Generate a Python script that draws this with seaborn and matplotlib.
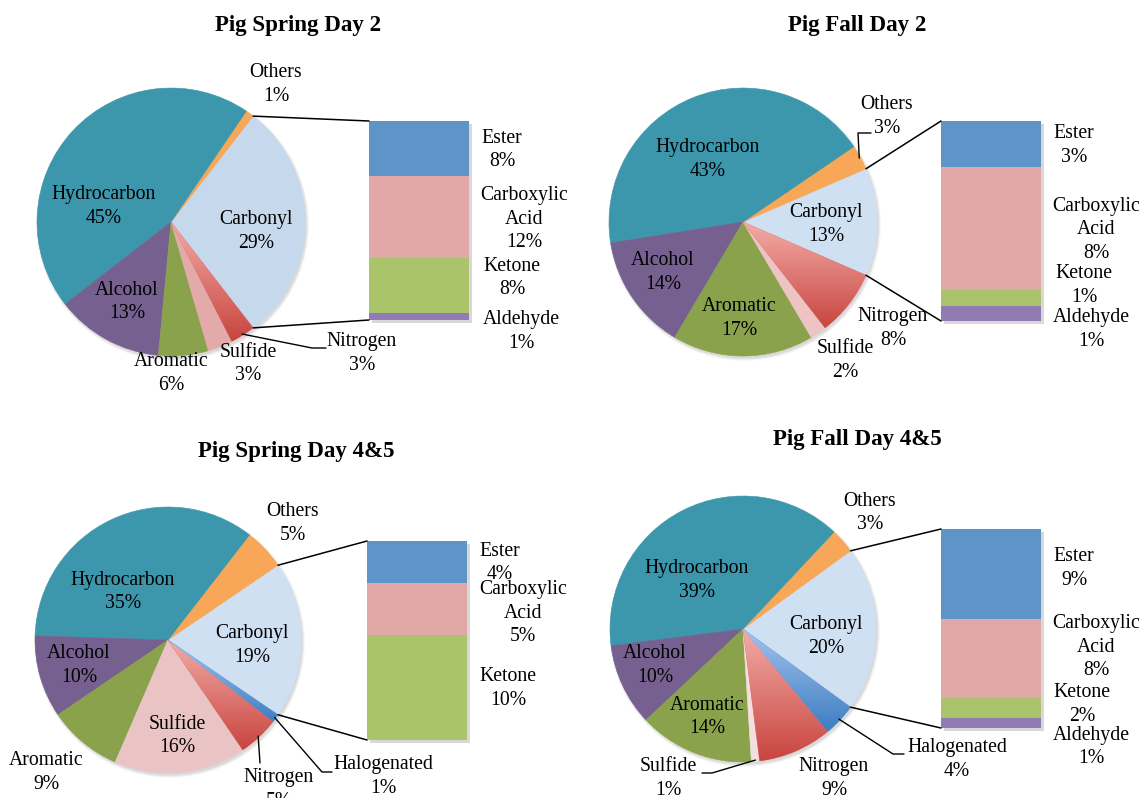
import numpy as np
import matplotlib
matplotlib.use("Agg")
import matplotlib.pyplot as plt
import seaborn as sns
from matplotlib.patches import Circle, ConnectionPatch
from matplotlib import patheffects as pe
from matplotlib.colors import LinearSegmentedColormap

# ---------------------------------------------------------------- data
titles = ["Pig Spring Day 2", "Pig Fall Day 2", "Pig Spring Day 4&5", "Pig Fall Day 4&5"]

spring2_pie_labels = ["Carbonyl", "Others", "Hydrocarbon", "Alcohol", "Aromatic", "Sulfide", "Nitrogen"]
spring2_pie_values = [29, 1, 45, 13, 6, 3, 3]
spring2_bar_labels = ["Ester", "Carboxylic Acid", "Ketone", "Aldehyde"]
spring2_bar_values = [8, 12, 8, 1]

fall2_pie_labels = ["Carbonyl", "Others", "Hydrocarbon", "Alcohol", "Aromatic", "Sulfide", "Nitrogen"]
fall2_pie_values = [13, 3, 43, 14, 17, 2, 8]
fall2_bar_labels = ["Ester", "Carboxylic Acid", "Ketone", "Aldehyde"]
fall2_bar_values = [3, 8, 1, 1]

spring45_pie_labels = ["Carbonyl", "Others", "Hydrocarbon", "Alcohol", "Aromatic", "Sulfide",
                       "Nitrogen", "Halogenated"]
spring45_pie_values = [19, 5, 35, 10, 9, 16, 5, 1]
spring45_bar_labels = ["Ester", "Carboxylic Acid", "Ketone"]
spring45_bar_values = [4, 5, 10]

fall45_pie_labels = ["Carbonyl", "Others", "Hydrocarbon", "Alcohol", "Aromatic", "Sulfide",
                     "Nitrogen", "Halogenated"]
fall45_pie_values = [20, 3, 39, 10, 14, 1, 9, 4]
fall45_bar_labels = ["Ester", "Carboxylic Acid", "Ketone", "Aldehyde"]
fall45_bar_values = [9, 8, 2, 1]

# ---------------------------------------------------------------- style
sns.set_theme(style="white")
plt.rcParams["font.family"] = ["Liberation Serif", "DejaVu Serif"]

W, H = 1140, 798
fig = plt.figure(figsize=(W / 100, H / 100), dpi=100)
fig.patch.set_facecolor("white")

base_colors = {
    "Hydrocarbon": "#3C97AD", "Others": "#F7A757", "Carbonyl": "#CFE0F2",
    "Alcohol": "#76608F", "Aromatic": "#89A24B", "Sulfide": "#EAC4C4",
    "Nitrogen": "#DE7772", "Halogenated": "#6E9AD6",
    "Ester": "#5F94C8", "Carboxylic Acid": "#E1A8A7", "Ketone": "#A9C46B",
    "Aldehyde": "#927AB4",
}
gradients = {
    "Nitrogen": LinearSegmentedColormap.from_list("nitro", ["#C8453F", "#F4ACA8"]),
    "Halogenated": LinearSegmentedColormap.from_list("halo", ["#3D7EC1", "#A4C4EE"]),
}

LABEL_FS = 14.2
LINE_SP = 1.34
TITLE_FS = 16.5


def fig_xy(px, py):
    return px / W, 1 - py / H


def add_px_axes(x0, y0, x1, y1):
    return fig.add_axes([x0 / W, 1 - y1 / H, (x1 - x0) / W, (y1 - y0) / H])


panels = [
    dict(title=titles[0], pie_labels=spring2_pie_labels, pie_values=spring2_pie_values,
         bar_labels=spring2_bar_labels, bar_values=spring2_bar_values,
         center=(171, 222), r=134, bar_box=(369, 121, 469, 320), title_xy=(298, 25),
         colors={"Carbonyl": "#C6D8EB", "Sulfide": "#E2AAA9"},
         pie_text={"Others": (276, 84.5), "Hydrocarbon": (104, 206.5), "Carbonyl": (256, 231.5),
                   "Alcohol": (127, 302), "Aromatic": (171, 373.5), "Sulfide": (248, 364),
                   "Nitrogen": (362, 353.5)},
         bar_text={"Ester": (502, 150), "Carboxylic Acid": (524, 219), "Ketone": (512, 278),
                   "Aldehyde": (521, 331.5)},
         leaders={"Nitrogen": [(312, 348), (326, 348)]}),
    dict(title=titles[1], pie_labels=fall2_pie_labels, pie_values=fall2_pie_values,
         bar_labels=fall2_bar_labels, bar_values=fall2_bar_values,
         center=(743, 222), r=134, bar_box=(941, 121, 1041, 321), title_xy=(857, 25),
         colors={"Sulfide": "#EDC3C3"},
         pie_text={"Others": (887, 116.5), "Hydrocarbon": (708, 159.5), "Carbonyl": (826, 224.5),
                   "Alcohol": (663, 272.5), "Aromatic": (739, 318.5), "Nitrogen": (893, 328.5),
                   "Sulfide": (845, 360.5)},
         bar_text={"Ester": (1074, 145.5), "Carboxylic Acid": (1096, 230), "Ketone": (1084, 285.5),
                   "Aldehyde": (1091, 329.5)},
         leaders={"Others": [(858, 133), (871, 133)]}),
    dict(title=titles[2], pie_labels=spring45_pie_labels, pie_values=spring45_pie_values,
         bar_labels=spring45_bar_labels, bar_values=spring45_bar_values,
         center=(168, 640), r=133, bar_box=(367, 541, 467, 740), title_xy=(296, 452),
         colors={"Sulfide": "#EAC4C4"},
         pie_text={"Others": (293, 523.5), "Hydrocarbon": (123, 592), "Carbonyl": (252, 645.5),
                   "Alcohol": (79, 665.5), "Sulfide": (177, 736), "Aromatic": (46, 772.5),
                   "Nitrogen": (279, 789.5), "Halogenated": (383, 776.5)},
         bar_text={"Ester": (500, 563), "Carboxylic Acid": (523, 613), "Ketone": (508, 688.5)},
         leaders={"Nitrogen": [(260, 763)], "Halogenated": [(322, 772), (332, 772)]}),
    dict(title=titles[3], pie_labels=fall45_pie_labels, pie_values=fall45_pie_values,
         bar_labels=fall45_bar_labels, bar_values=fall45_bar_values,
         center=(743, 629), r=133, bar_box=(941, 529, 1041, 728), title_xy=(857, 439),
         colors={"Sulfide": "#F5DEDE"},
         pie_text={"Others": (870, 513), "Hydrocarbon": (697, 580.5), "Carbonyl": (826, 636.5),
                   "Alcohol": (655, 665.5), "Aromatic": (707, 717), "Sulfide": (668, 778.5),
                   "Nitrogen": (834, 778.5), "Halogenated": (957, 759.5)},
         bar_text={"Ester": (1074, 568.5), "Carboxylic Acid": (1096, 647), "Ketone": (1082, 704.5),
                   "Aldehyde": (1091, 747)},
         leaders={"Halogenated": [(893, 754), (904, 754)], "Sulfide": [(712, 773), (702, 773)]}),
]

for p in panels:
    cx, cy = p["center"]
    r = p["r"]
    labels, values = p["pie_labels"], p["pie_values"]
    total = float(sum(values))
    colors = [p["colors"].get(lab, base_colors[lab]) for lab in labels]

    # ---- pie (aggregated "Carbonyl" slice centred on the right-hand side)
    ax = add_px_axes(cx - r, cy - r, cx + r, cy + r)
    half = values[0] / total * 180.0
    wedges, _ = ax.pie(values, colors=colors, startangle=-half, counterclock=True,
                       radius=1.0, center=(0, 0),
                       wedgeprops=dict(linewidth=0.4))
    for w in wedges:
        w.set_edgecolor(w.get_facecolor())
        w.set_zorder(2)

    # soft drop shadow under the pie
    for k, a in enumerate([0.045, 0.04, 0.035, 0.03]):
        ax.add_patch(Circle((0.012, -0.018), 1.0 + 0.006 * k, facecolor="black",
                            edgecolor="none", alpha=a, zorder=0.5, clip_on=False))

    # gradient fill for the Nitrogen / Halogenated slices
    for lab, w in zip(labels, wedges):
        if lab in gradients:
            v = w.get_path().vertices
            x0, x1 = v[:, 0].min(), v[:, 0].max()
            y0, y1 = v[:, 1].min(), v[:, 1].max()
            grad = np.linspace(0, 1, 256).reshape(-1, 1)
            im = ax.imshow(grad, extent=(x0, x1, y0, y1), origin="lower",
                           cmap=gradients[lab], aspect="auto", zorder=2.5,
                           interpolation="bilinear")
            im.set_clip_path(w)

    ax.set_xlim(-1, 1)
    ax.set_ylim(-1, 1)
    ax.set_aspect("auto")
    ax.axis("off")

    # leader lines from slice to its label
    for lab, pts in p["leaders"].items():
        w = wedges[labels.index(lab)]
        mid = np.deg2rad((w.theta1 + w.theta2) / 2)
        xs = [np.cos(mid) * 0.99] + [(px - cx) / r for px, _ in pts]
        ys = [np.sin(mid) * 0.99] + [(cy - py) / r for _, py in pts]
        ax.plot(xs, ys, color="black", lw=1.0, clip_on=False, zorder=4)

    # slice labels
    for lab, val in zip(labels, values):
        if lab in p["pie_text"]:
            tx, ty = p["pie_text"][lab]
            fx, fy = fig_xy(tx, ty)
            fig.text(fx, fy, f"{lab}\n{val}%", ha="center", va="center",
                     multialignment="center", fontsize=LABEL_FS, color="black",
                     linespacing=LINE_SP)

    # ---- stacked breakdown bar of the aggregated slice
    bx0, by0, bx1, by1 = p["bar_box"]
    bax = add_px_axes(bx0, by0, bx1, by1)
    bvals = p["bar_values"]
    blabs = p["bar_labels"]
    btotal = float(sum(bvals))
    cum = np.cumsum(bvals[::-1])[::-1]          # top segment first (full height)
    for lab, h in zip(blabs, cum):
        sns.barplot(x=[0], y=[h], color=base_colors[lab], saturation=1, width=1.0,
                    errorbar=None, linewidth=0, ax=bax)
    first = bax.patches[0]
    first.set_clip_on(False)
    first.set_path_effects([pe.SimplePatchShadow(offset=(2, -2), shadow_rgbFace="0.5",
                                                 alpha=0.3), pe.Normal()])
    bax.set_xlim(-0.5, 0.5)
    bax.set_ylim(0, btotal)
    bax.axis("off")

    for lab, val in zip(blabs, bvals):
        tx, ty = p["bar_text"][lab]
        fx, fy = fig_xy(tx, ty)
        fig.text(fx, fy, f"{lab.replace(' ', chr(10))}\n{val}%", ha="center", va="center",
                 multialignment="center", fontsize=LABEL_FS, color="black",
                 linespacing=LINE_SP)

    # ---- connector lines between slice edges and bar corners
    t = np.deg2rad(half)
    for sgn, yb in [(1, btotal), (-1, 0)]:
        con = ConnectionPatch(xyA=(np.cos(t), sgn * np.sin(t)), coordsA="data", axesA=ax,
                              xyB=(0, yb), coordsB=bax.get_yaxis_transform(), axesB=bax,
                              color="black", lw=1.1, zorder=5)
        fig.add_artist(con)

    # ---- title
    fx, fy = fig_xy(*p["title_xy"])
    fig.text(fx, fy, p["title"], ha="center", va="center", fontsize=TITLE_FS,
             fontweight="bold", color="black")

fig.savefig("out.png", dpi=100, facecolor="white")
